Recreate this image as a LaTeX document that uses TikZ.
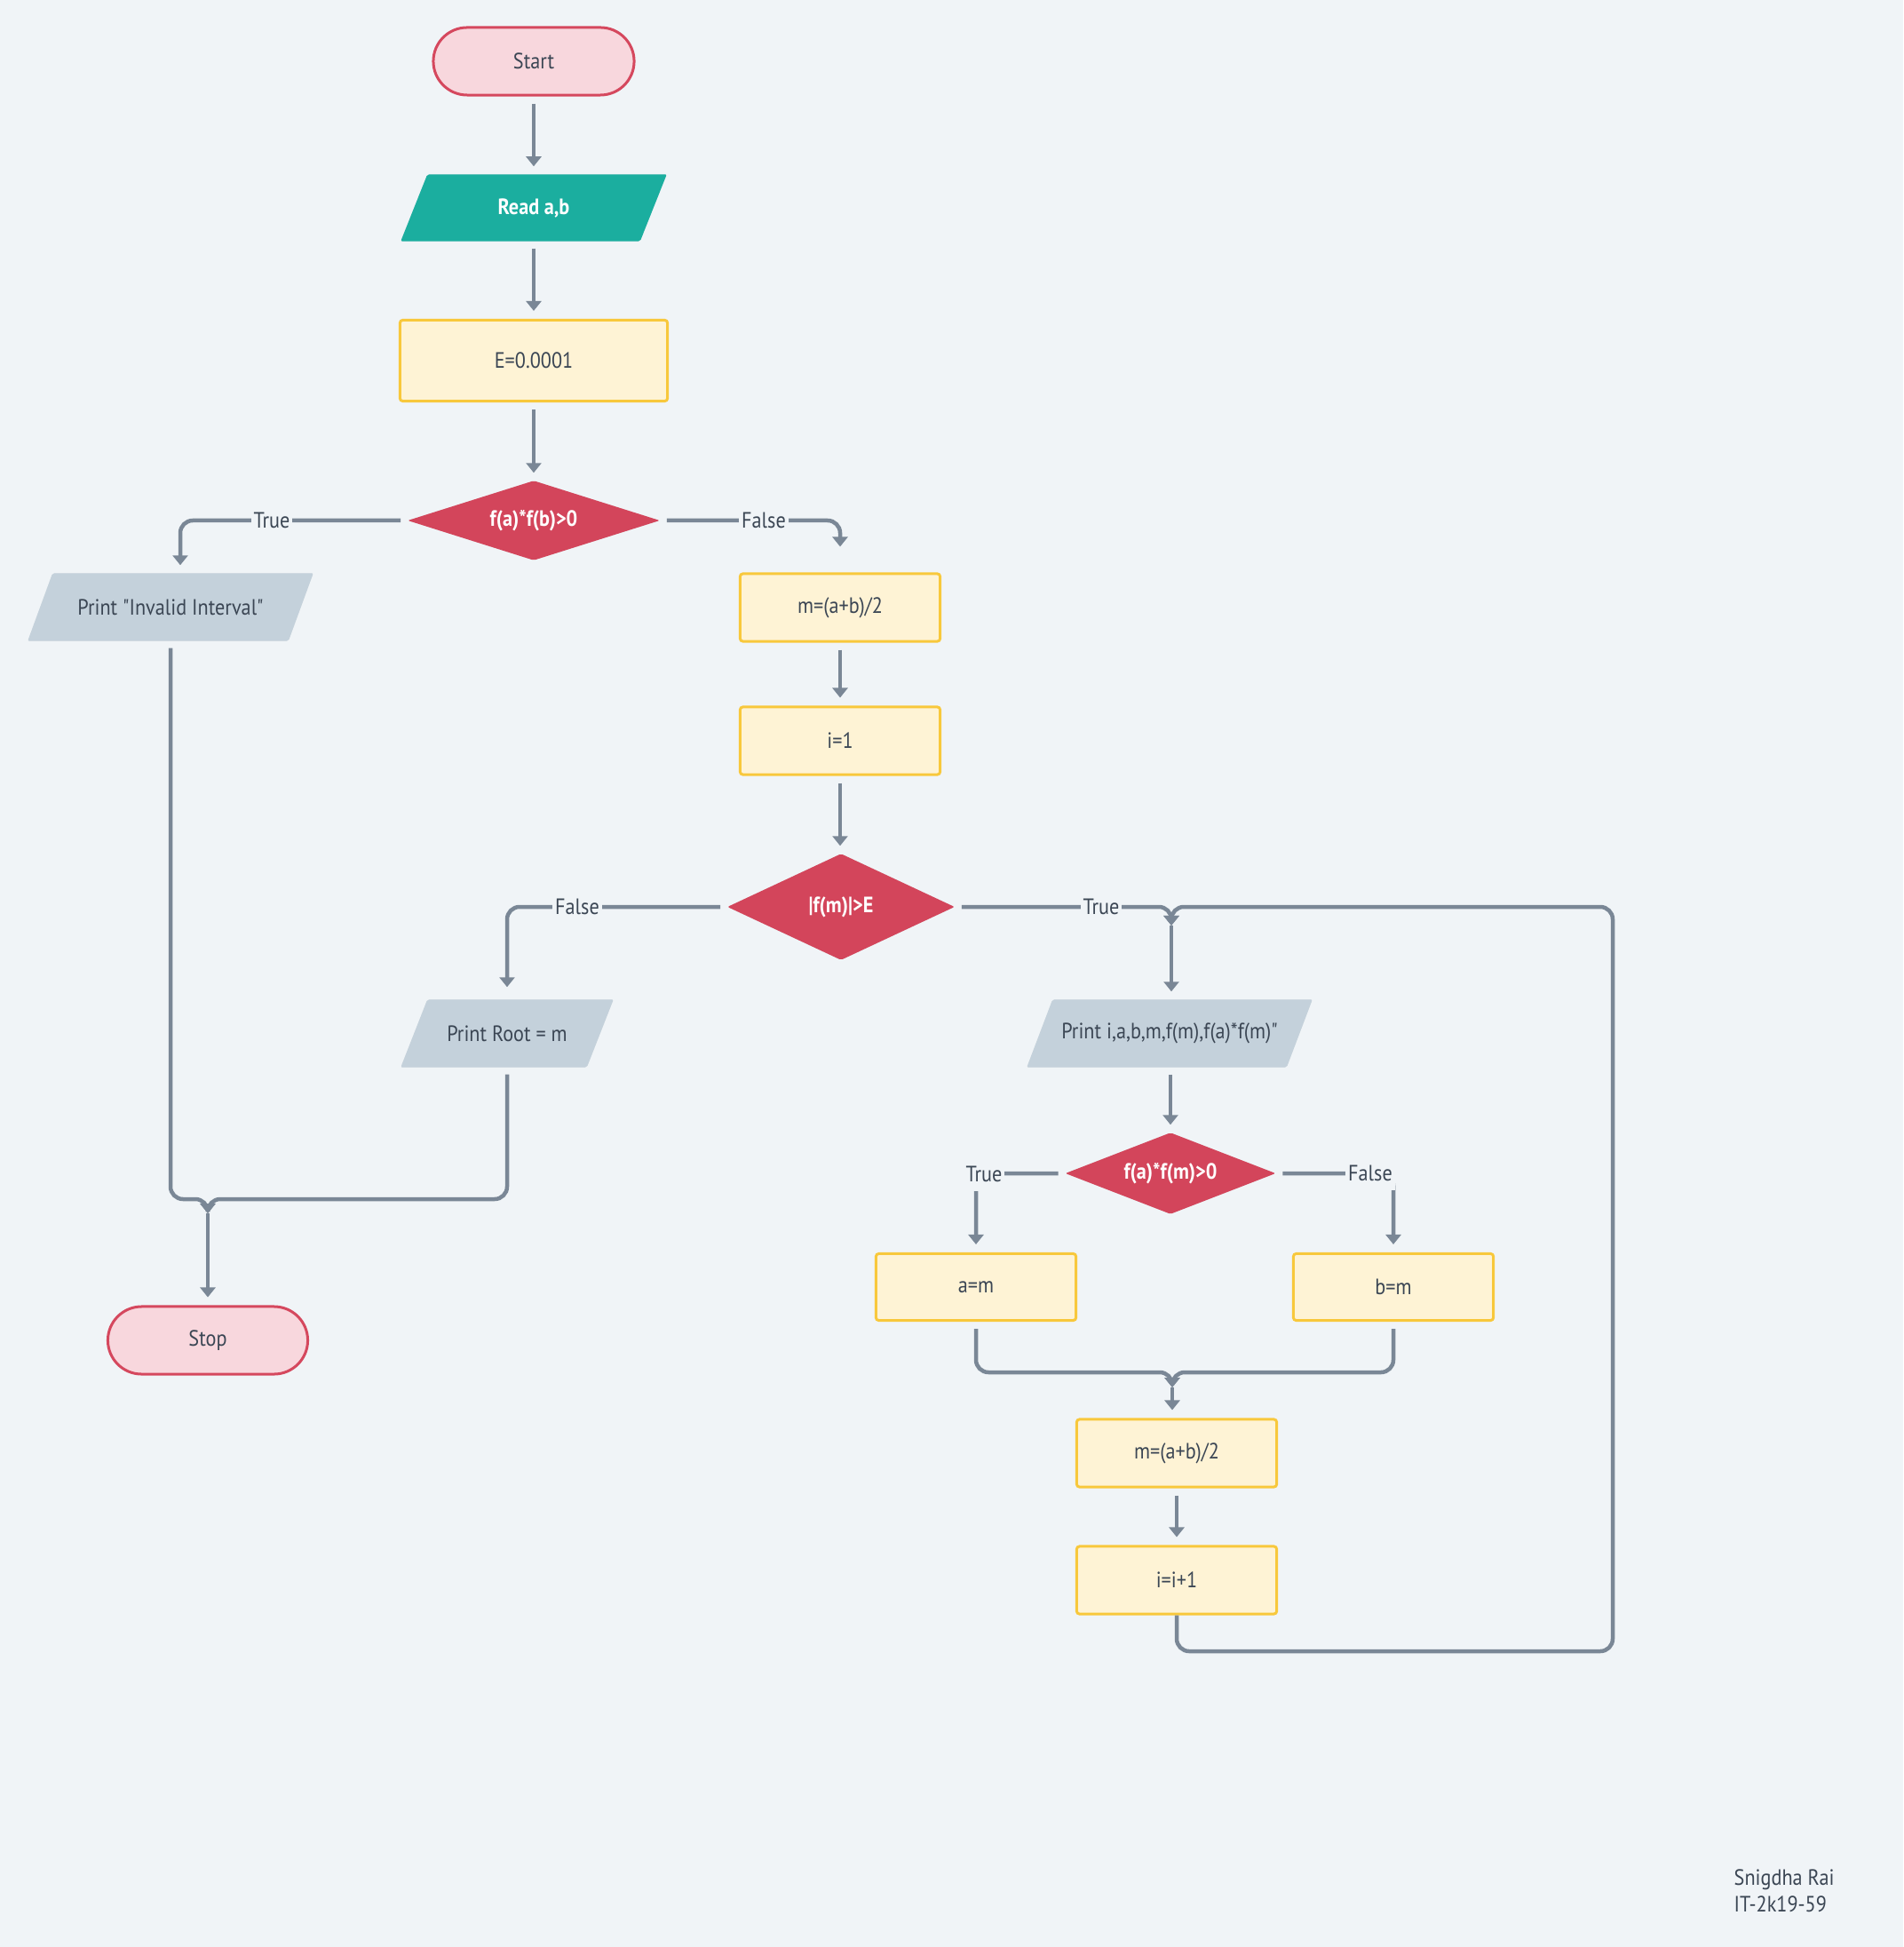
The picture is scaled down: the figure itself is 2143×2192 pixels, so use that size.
\documentclass[tikz,border=0pt]{standalone}
\usepackage{fontspec}
\setmainfont{PT Sans}[FakeStretch=0.89]
\newfontfamily\plainquote{PT Sans}[FakeStretch=0.89]
\usetikzlibrary{arrows.meta}

\definecolor{pagebg}{HTML}{F0F4F7}
\definecolor{wire}{HTML}{7A8796}
\definecolor{ink}{HTML}{3B4654}
\definecolor{termfill}{HTML}{F8D7DD}
\definecolor{termline}{HTML}{D5485E}
\definecolor{procfill}{HTML}{FEF3D5}
\definecolor{procline}{HTML}{F8C83C}
\definecolor{decfill}{HTML}{D3455B}
\definecolor{iofill}{HTML}{C4D1DB}
\definecolor{readfill}{HTML}{1BAE9F}

\pgfdeclarelayer{pagefill}
\pgfdeclarelayer{shapefill}
\pgfsetlayers{pagefill,shapefill,main}

% parallelogram behind a node: name, slant, colour
\newcommand\ioshape[3]{%
  \begin{pgfonlayer}{shapefill}
    \fill[black, opacity=0.06, yshift=-0.03cm, rounded corners=0.02cm]
      ([xshift=#2]#1.north west) -- (#1.north east) -- ([xshift=-#2]#1.south east) -- (#1.south west) -- cycle;
    \fill[#3, rounded corners=0.02cm]
      ([xshift=#2]#1.north west) -- (#1.north east) -- ([xshift=-#2]#1.south east) -- (#1.south west) -- cycle;
  \end{pgfonlayer}}
% diamond behind a node
\newcommand\decshape[1]{%
  \begin{pgfonlayer}{shapefill}
    \fill[black, opacity=0.06, yshift=-0.03cm, rounded corners=0.02cm]
      (#1.north) -- (#1.east) -- (#1.south) -- (#1.west) -- cycle;
    \fill[decfill, rounded corners=0.02cm]
      (#1.north) -- (#1.east) -- (#1.south) -- (#1.west) -- cycle;
  \end{pgfonlayer}}
% straight double quote
\newcommand\dq{{\plainquote\symbol{34}}}

\begin{document}
\begin{tikzpicture}[x=0.01cm, y=-0.01cm,
  base/.style={font=\fontsize{7.1pt}{8.5pt}\selectfont, text=ink, inner sep=0pt},
  term/.style={base, draw=termline, fill=termfill, line width=0.03cm,
    rounded corners=0.38cm, minimum width=2.26cm, minimum height=0.76cm},
  proc/.style={base, draw=procline, fill=procfill, line width=0.03cm,
    rounded corners=0.03cm, minimum width=2.25cm, minimum height=0.76cm},
  hold/.style={base, minimum height=0.75cm},
  dec/.style={base, text=white, font=\fontsize{7.1pt}{8.5pt}\selectfont\bfseries},
  conn/.style={draw=wire, line width=0.045cm, -{Triangle[width=0.17cm,length=0.11cm]},
    shorten <=0.08cm, shorten >=0.09cm},
  merge/.style={draw=wire, line width=0.045cm, -{Triangle[width=0.17cm,length=0.11cm]},
    shorten <=0.08cm, rounded corners=0.14cm},
  lbl/.style={base, fill=pagebg, inner xsep=0.03cm, inner ysep=0.1cm}
]
\begin{pgfonlayer}{pagefill}
  \fill[pagebg] (0,0) rectangle (2143,2192);
\end{pgfonlayer}
\useasboundingbox (0,0) rectangle (2143,2192);

% main column
\node[term] (start) at (601,69) {Start};
\node[hold, text=white, font=\fontsize{7.1pt}{8.5pt}\selectfont\bfseries,
  minimum width=2.98cm, minimum height=0.74cm] (read) at (601,234) {Read a,b};
\ioshape{read}{0.30cm}{readfill}
\node[proc, minimum width=3.01cm, minimum height=0.91cm] (eps) at (601,406) {E=0.0001};
\node[dec, minimum width=2.82cm, minimum height=0.88cm] (d1) at (601,586) {f(a)*f(b)>0};
\decshape{d1}

% invalid interval branch
\node[hold, minimum width=3.20cm] (invalid) at (192,683.5) {Print \dq Invalid Interval\dq};
\ioshape{invalid}{0.28cm}{iofill}

% bisection set-up
\node[proc] (m1) at (946,684) {m=(a+b)/2};
\node[proc] (i1) at (946,834) {i=1};
\node[dec, minimum width=2.54cm, minimum height=1.18cm] (d2) at (947,1021) {|f(m)|>E};
\decshape{d2}

\node[hold, minimum width=2.38cm] (root) at (571,1163.5) {Print Root = m};
\ioshape{root}{0.30cm}{iofill}
\node[hold, minimum width=3.20cm] (printi) at (1317,1163.5) {Print i,a,b,m,f(m),f(a)*f(m)\dq};
\ioshape{printi}{0.29cm}{iofill}

% loop body
\node[dec, minimum width=2.35cm, minimum height=0.90cm] (d3) at (1318,1321) {f(a)*f(m)>0};
\decshape{d3}
\node[proc, minimum height=0.75cm] (am) at (1099,1449) {a=m};
\node[proc, minimum height=0.75cm] (bm) at (1569,1449) {b=m};
\node[proc] (m2) at (1325,1636) {m=(a+b)/2};
\node[proc] (inc) at (1325,1779) {i=i+1};

\node[term, minimum width=2.25cm] (stop) at (234,1509) {Stop};

% junction and corner points
\coordinate (j1) at (1319,1042);
\coordinate (loopR) at (1816,1859);
\coordinate (m3) at (1320,1545);
\coordinate (j3) at (1320,1562);
\coordinate (m4) at (234,1350);
\coordinate (j4) at (234,1366);

% connectors
\draw[conn] (start.south) -- (read.north);
\draw[conn] (read.south) -- (eps.north);
\draw[conn] (eps.south) -- (d1.north);
\draw[conn, rounded corners=0.14cm] (d1.west) -| ([xshift=0.11cm]invalid.north);
\draw[conn, rounded corners=0.14cm] (d1.east) -| ([yshift=0.2cm]m1.north);
\draw[conn] (m1.south) -- (i1.north);
\draw[conn] (i1.south) -- (i1.south |- d2.north);
\draw[conn, rounded corners=0.14cm] (d2.west) -| ([yshift=0.05cm]root.north);
\draw[merge] (d2.east) -| (j1);
\draw[merge, shorten <=0pt] (inc.south) |- (loopR) -- (loopR |- d2.east) -| (j1);
\draw[conn, shorten <=0pt] (j1) -- (j1 |- printi.north);
\draw[conn] (printi.south -| d3.north) -- (d3.north);
\draw[conn, rounded corners=0.14cm] (d3.west) -| (am.north);
\draw[conn, rounded corners=0.14cm] (d3.east) -| (bm.north);
\draw[merge] (am.south) |- (m3) -- (j3);
\draw[merge] (bm.south) |- (m3) -- (j3);
\draw[conn, shorten <=0pt] (j3) -- (j3 |- m2.north);
\draw[conn] (m2.south) -- (inc.north);
\draw[merge] (invalid.south) |- (m4) -- (j4);
\draw[merge] (root.south) |- (m4) -- (j4);
\draw[conn, shorten <=0pt] (j4) -- (stop.north);

% branch labels
\node[lbl] (t1) at (306,586) {True};
\node[lbl] (f1) at (860,586) {False};
\node[lbl] (f2) at (650,1021) {False};
\node[lbl] (t2) at (1240,1021) {True};
\node[lbl] (t3) at (1108,1322) {True};
\node[lbl] (f3) at (1543,1321) {False};

% author
\node[base, anchor=base west] (author1) at (1952,2122) {Snigdha Rai};
\node[base, anchor=base west] (author2) at (1952,2152) {IT-2k19-59};
\end{tikzpicture}
\end{document}
